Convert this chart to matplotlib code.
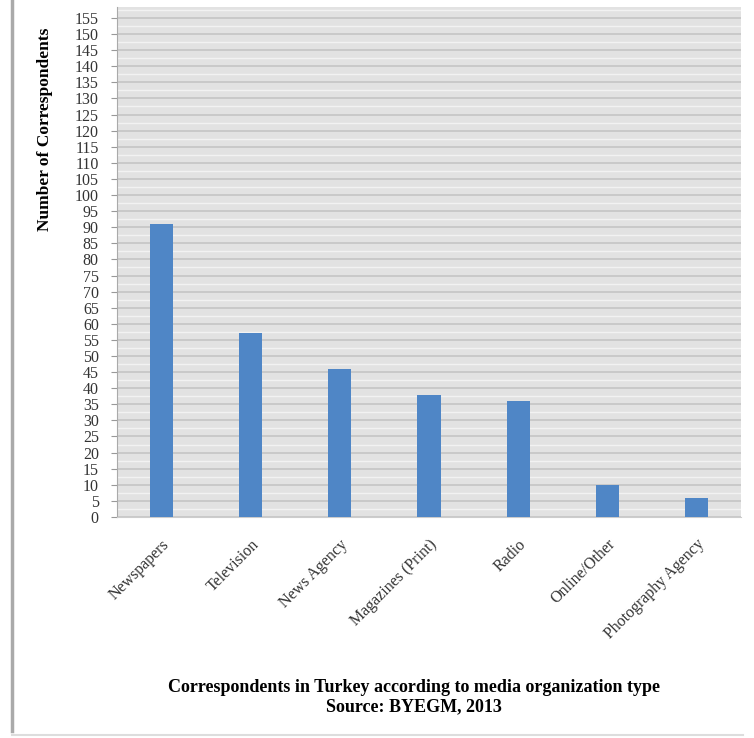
import matplotlib.pyplot as plt
from matplotlib.lines import Line2D
import numpy as np

categories = ["Newspapers", "Television", "News Agency", "Magazines (Print)",
              "Radio", "Online/Other", "Photography Agency"]
counts = [91, 57, 46, 38, 36, 10, 6]
yticks = list(range(0, 160, 5))

plt.rcParams["font.family"] = ["Liberation Serif", "DejaVu Serif"]

fig = plt.figure(figsize=(7.54, 7.38), dpi=100)
ax = fig.add_axes([0.155, 0.2995, 0.828, 0.691])

x = np.arange(len(categories))
ax.bar(x, counts, width=0.26, color="#4f86c6", zorder=3)

ax.set_facecolor("#e2e2e2")
ax.set_xlim(-0.5, len(categories) - 0.5)
ax.set_ylim(0, 158.4)
ax.set_yticks(yticks)
ax.set_yticklabels([str(t) for t in yticks], fontsize=11.5, color="#333333")
ax.set_yticks(np.arange(2.5, 158, 5), minor=True)
ax.grid(axis="y", which="major", color="#c4c4c4", lw=1.2, zorder=1)
ax.grid(axis="y", which="minor", color="#f2f2f2", lw=1.0, zorder=1)
ax.tick_params(axis="y", which="minor", length=0)
ax.tick_params(axis="y", which="major", length=4, color="#999999", pad=9)

ax.set_xticks(x)
ax.set_xticklabels(categories, rotation=45, ha="right", rotation_mode="anchor",
                   fontsize=11.5, color="#333333")
ax.tick_params(axis="x", length=0, pad=14)

for side in ["top", "right"]:
    ax.spines[side].set_visible(False)
ax.spines["left"].set_color("#aaaaaa")
ax.spines["bottom"].set_color("#cccccc")

ax.set_ylabel("Number of Correspondents", fontsize=12.5, fontweight="bold")
ax.yaxis.set_label_coords(-0.102, 0.76)

fig.text(0.549, 0.068, "Correspondents in Turkey according to media organization type",
         ha="center", va="center", fontsize=13, fontweight="bold")
fig.text(0.549, 0.043, "Source: BYEGM, 2013",
         ha="center", va="center", fontsize=13, fontweight="bold")

# page frame lines
fig.add_artist(Line2D([0.016, 0.016], [0.01, 1.0], color="#aaaaaa", lw=2.5))
fig.add_artist(Line2D([0.016, 0.985], [0.004, 0.004], color="#dddddd", lw=1.5))

fig.savefig("out.png", dpi=100)
